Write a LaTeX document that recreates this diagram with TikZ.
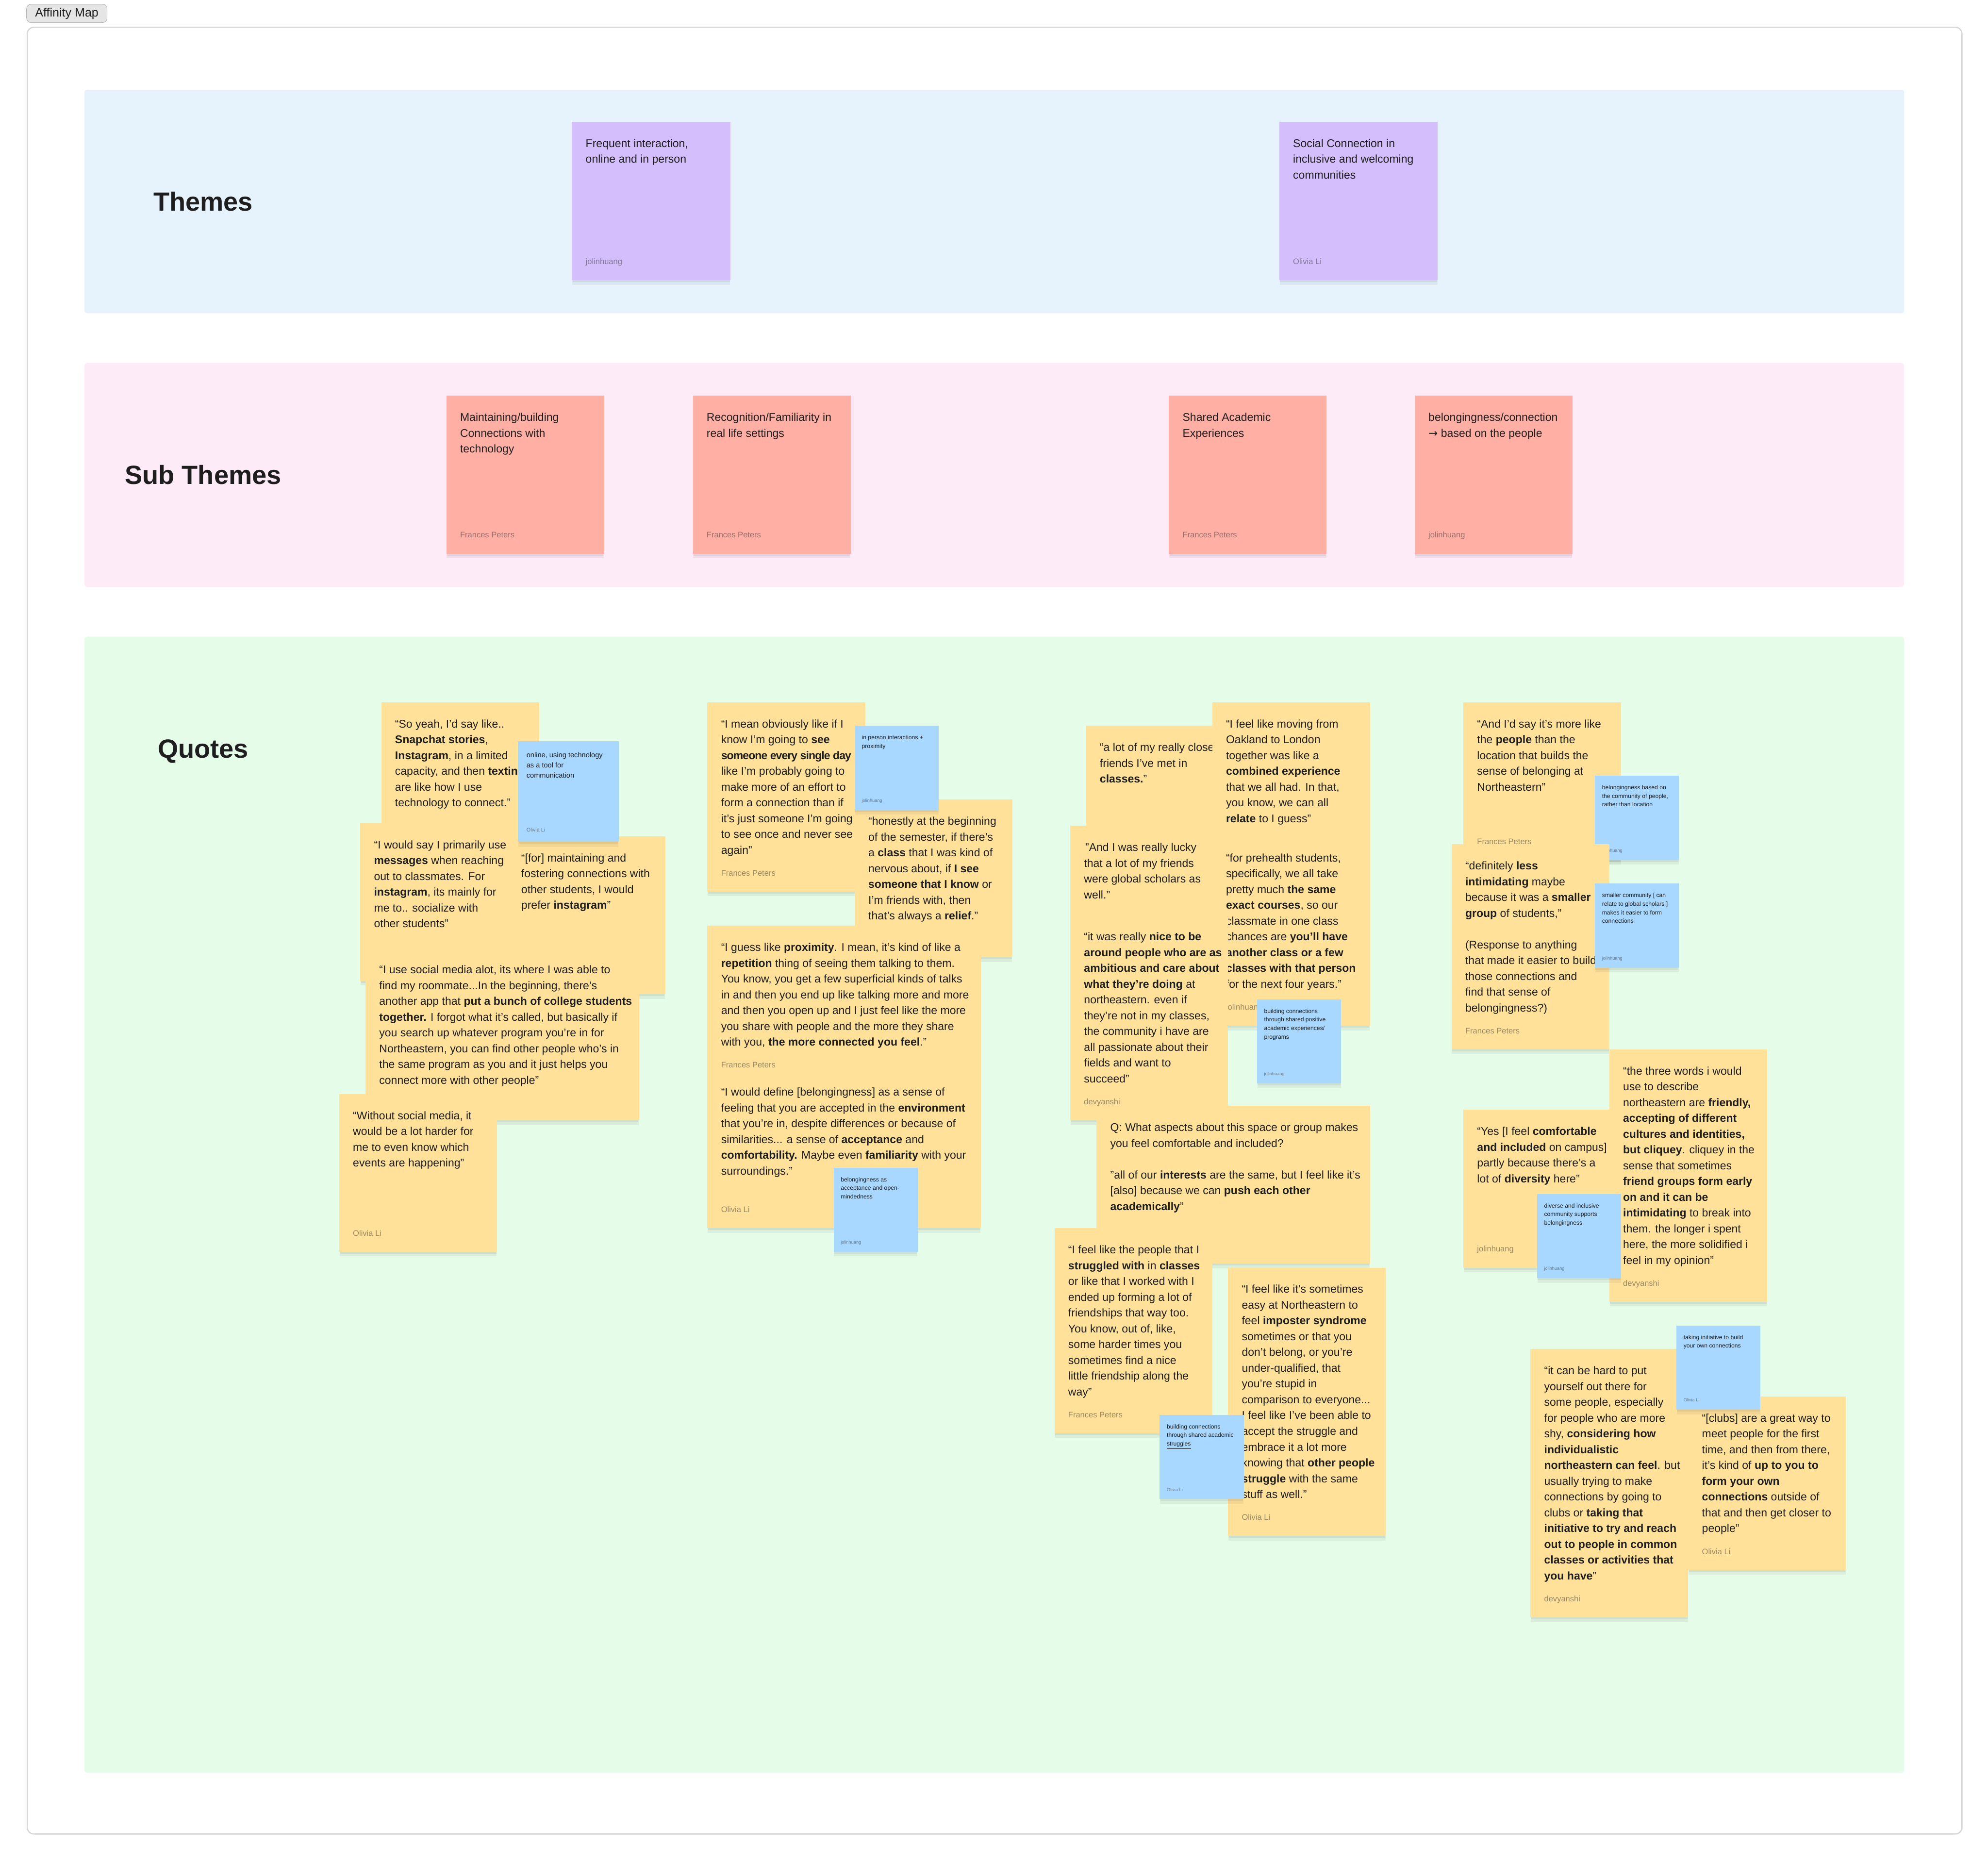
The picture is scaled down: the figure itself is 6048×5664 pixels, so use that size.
\documentclass[tikz,border=0pt]{standalone}
\usepackage{fontspec}
\setmainfont{Liberation Sans}
\newfontfamily\symf{DejaVu Sans}
\definecolor{ink}{HTML}{1E1E1E}
\definecolor{themebg}{HTML}{E6F3FD}
\definecolor{subbg}{HTML}{FDEBF7}
\definecolor{quotebg}{HTML}{E5FCE8}
\definecolor{purplenote}{HTML}{D4BEFC}
\definecolor{salmonnote}{HTML}{FFAFA3}
\definecolor{yellownote}{HTML}{FFE19A}
\definecolor{bluenote}{HTML}{A8D8FF}
\definecolor{framegray}{HTML}{D6D6D6}
\tikzset{
  notebox/.style={rectangle, inner sep=0pt, outer sep=0pt, anchor=north west, draw=none},
  sectionbox/.style={rectangle, inner sep=0pt, anchor=north west, draw=none, rounded corners=2pt},
  qtext/.style={anchor=north west, inner sep=0pt, align=left, text=ink, font=\fontsize{8.5pt}{12pt}\selectfont},
  qauth/.style={anchor=base west, inner sep=0pt, text=ink, text opacity=0.45, font=\fontsize{6.1pt}{7pt}\selectfont},
  btext/.style={anchor=north west, inner sep=0pt, align=left, text=ink, font=\fontsize{4.5pt}{6.5pt}\selectfont},
  bauth/.style={anchor=base west, inner sep=0pt, text=ink, text opacity=0.5, font=\fontsize{3.4pt}{4pt}\selectfont},
  btextL/.style={anchor=north west, inner sep=0pt, align=left, text=ink, font=\fontsize{5.4pt}{7.75pt}\selectfont},
  bauthL/.style={anchor=base west, inner sep=0pt, text=ink, text opacity=0.5, font=\fontsize{4pt}{5pt}\selectfont},
  sectitle/.style={anchor=base, inner sep=0pt, text=ink, font=\fontsize{20pt}{24pt}\selectfont\bfseries},
  shadowA/.style={fill=black, opacity=0.05},
  shadowB/.style={fill=black, opacity=0.06},
}
% name, x, y, w, h, colour, text, author
\newcommand\stickynote[8]{%
  \fill[shadowA] (#2+1,#3+8) rectangle (#2+#4-1,#3+#5+14);
  \fill[shadowB] (#2+2,#3+3) rectangle (#2+#4-2,#3+#5+6);
  \node[notebox, fill=#6, minimum width=#4*0.25pt, minimum height=#5*0.25pt] (#1) at (#2,#3) {};
  \node[qtext] (#1-text) at (#2+41,#3+43) {\strut#7};
  \if\relax\detokenize{#8}\relax\else
  \node[qauth] (#1-author) at (#2+41,#3+#5-48) {#8};
  \fi
}
% name, x, y, text, author  (256 x 256 tag note)
\newcommand\tagnote[5]{%
  \fill[shadowA] (#2+1,#3+8) rectangle (#2+255,#3+270);
  \fill[shadowB] (#2+2,#3+3) rectangle (#2+254,#3+262);
  \node[notebox, fill=bluenote, minimum width=64pt, minimum height=64pt] (#1) at (#2,#3) {};
  \node[btext] (#1-text) at (#2+21,#3+23) {\strut#4};
  \node[bauth] (#1-author) at (#2+21,#3+232) {#5};
}
\begin{document}
\begin{tikzpicture}[x=0.25pt,y=-0.25pt]
\useasboundingbox (0,0) rectangle (6048,5664);
\fill[white] (0,0) rectangle (6048,5664);

% frame and label
\node[rectangle, anchor=north west, draw=framegray, line width=0.9pt, rounded corners=5pt, inner sep=0pt,
  minimum width=1471.5pt, minimum height=1374pt] (frame) at (81,81) {};
\node[rectangle, anchor=north west, fill=black!10, draw=black!28, line width=0.4pt, rounded corners=3.5pt,
  inner sep=0pt, minimum width=61.25pt, minimum height=14pt, text=ink,
  font=\fontsize{9.25pt}{11pt}\selectfont] (affinity) at (80,12) {Affinity Map};

% sections
\node[sectionbox, fill=themebg, minimum width=1384pt, minimum height=170pt] (sec-themes) at (256,272) {};
\node[sectionbox, fill=subbg, minimum width=1384pt, minimum height=170pt] (sec-sub) at (256,1104) {};
\node[sectionbox, fill=quotebg, minimum width=1384pt, minimum height=864pt] (sec-quotes) at (256,1936) {};

\node[sectitle] (title-themes) at (618,641) {Themes};
\node[sectitle] (title-sub) at (618,1473) {Sub Themes};
\node[sectitle] (title-quotes) at (618,2305) {Quotes};

% themes
\stickynote{th1}{1740}{370}{482}{482}{purplenote}{Frequent interaction,\\online and in person}{jolinhuang}
\stickynote{th2}{3892}{370}{482}{482}{purplenote}{Social Connection in\\inclusive and welcoming\\communities}{Olivia Li}

% sub themes
\stickynote{st1}{1358}{1204}{480}{480}{salmonnote}{Maintaining/building\\Connections with\\technology}{Frances Peters}
\stickynote{st2}{2108}{1204}{480}{480}{salmonnote}{Recognition/Familiarity in\\real life settings}{Frances Peters}
\stickynote{st3}{3556}{1204}{480}{480}{salmonnote}{Shared Academic\\Experiences}{Frances Peters}
\stickynote{st4}{4304}{1204}{480}{480}{salmonnote}{belongingness/connection\\{\symf →} based on the people}{jolinhuang}

% ---------- quotes column 1
\stickynote{q1}{1160}{2136}{480}{480}{yellownote}{“So yeah, I'd say like..\\\textbf{Snapchat stories},\\\textbf{Instagram}, in a limited\\capacity, and then \textbf{texting}\\are like how I use\\technology to connect.”}{}
\stickynote{q2}{1096}{2504}{480}{480}{yellownote}{“I would say I primarily use\\\textbf{messages} when reaching\\out to classmates. For\\\textbf{instagram}, its mainly for\\me to.. socialize with\\other students”}{}
\stickynote{q3}{1544}{2544}{480}{480}{yellownote}{“[for] maintaining and\\fostering connections with\\other students, I would\\prefer \textbf{instagram}”}{}
% large tag note
\fill[shadowA] (1577,2262) rectangle (1881,2576);
\fill[shadowB] (1578,2257) rectangle (1880,2566);
\node[notebox, fill=bluenote, minimum width=76.5pt, minimum height=76.5pt] (b1) at (1576,2254) {};
\node[btextL] (b1-text) at (1601,2281) {\strut online, using technology\\as a tool for\\communication};
\node[bauthL] (b1-author) at (1601,2530) {Olivia Li};
\stickynote{q4}{1112}{2884}{832}{524}{yellownote}{“I use social media alot, its where I was able to\\find my roommate...In the beginning, there’s\\another app that \textbf{put a bunch of college students}\\\textbf{together.} I forgot what it’s called, but basically if\\you search up whatever program you’re in for\\Northeastern, you can find other people who’s in\\the same program as you and it just helps you\\connect more with other people”}{}
\stickynote{q5}{1032}{3328}{480}{480}{yellownote}{“Without social media, it\\would be a lot harder for\\me to even know which\\events are happening”}{Olivia Li}

% ---------- quotes column 2
\stickynote{q6}{2152}{2136}{480}{576}{yellownote}{“I mean obviously like if I\\know I'm going to \textbf{see}\\{\addfontfeature{LetterSpace=-4}\textbf{someone every single day}}\\like I'm probably going to\\make more of an effort to\\form a connection than if\\it's just someone I'm going\\to see once and never see\\again”}{Frances Peters}
\stickynote{q7}{2600}{2432}{480}{480}{yellownote}{“honestly at the beginning\\of the semester, if there's\\a \textbf{class} that I was kind of\\nervous about, if \textbf{I see}\\\textbf{someone that I know} or\\I'm friends with, then\\that's always a \textbf{relief}.”}{}
\tagnote{b2}{2600}{2208}{in person interactions +\\proximity}{jolinhuang}
\stickynote{q8}{2152}{2816}{832}{480}{yellownote}{“I guess like \textbf{proximity}. I mean, it's kind of like a\\\textbf{repetition} thing of seeing them talking to them.\\You know, you get a few superficial kinds of talks\\in and then you end up like talking more and more\\and then you open up and I just feel like the more\\you share with people and the more they share\\with you, \textbf{the more connected you feel}.”}{Frances Peters}
\stickynote{q9}{2152}{3256}{832}{480}{yellownote}{“I would define [belongingness] as a sense of\\feeling that you are accepted in the \textbf{environment}\\that you're in, despite differences or because of\\similarities... a sense of \textbf{acceptance} and\\\textbf{comfortability.} Maybe even \textbf{familiarity} with your\\surroundings.”}{Olivia Li}
\tagnote{b3}{2536}{3552}{belongingness as\\acceptance and open-\\mindedness}{jolinhuang}

% ---------- quotes column 3
\stickynote{q10}{3304}{2208}{480}{480}{yellownote}{“a lot of my really close\\friends I've met in\\\textbf{classes.}”}{}
\stickynote{q14}{3256}{2512}{480}{480}{yellownote}{\hspace{1pt}”And I was really lucky\\that a lot of my friends\\were global scholars as\\well.”}{}
\stickynote{q11}{3688}{2136}{480}{480}{yellownote}{“I feel like moving from\\Oakland to London\\together was like a\\\textbf{combined experience}\\that we all had. In that,\\you know, we can all\\\textbf{relate} to I guess”}{}
\stickynote{q12}{3688}{2544}{480}{576}{yellownote}{“for prehealth students,\\specifically, we all take\\pretty much \textbf{the same}\\\textbf{exact courses}, so our\\classmate in one class\\chances are \textbf{you’ll have}\\\textbf{another class or a few}\\\textbf{classes with that person}\\for the next four years.”}{jolinhuang}
\stickynote{q13}{3256}{2784}{480}{624}{yellownote}{“it was really \textbf{nice to be}\\\textbf{around people who are as}\\\textbf{ambitious and care about}\\\textbf{what they’re doing} at\\northeastern. even if\\they’re not in my classes,\\the community i have are\\all passionate about their\\fields and want to\\succeed”}{devyanshi}
\tagnote{b4}{3824}{3040}{building connections\\through shared positive\\academic experiences/\\programs}{jolinhuang}
\stickynote{q15}{3336}{3364}{832}{480}{yellownote}{Q: What aspects about this space or group makes\\you feel comfortable and included?\\[12pt]”all of our \textbf{interests} are the same, but I feel like it’s\\{}[also] because we can \textbf{push each other}\\\textbf{academically}”}{}
\stickynote{q16}{3208}{3736}{480}{624}{yellownote}{“I feel like the people that I\\\textbf{struggled with} in \textbf{classes}\\or like that I worked with I\\ended up forming a lot of\\friendships that way too.\\You know, out of, like,\\some harder times you\\sometimes find a nice\\little friendship along the\\way”}{Frances Peters}
\stickynote{q17}{3736}{3856}{480}{816}{yellownote}{“I feel like it's sometimes\\easy at Northeastern to\\feel \textbf{imposter syndrome}\\sometimes or that you\\don't belong, or you're\\under-qualified, that\\you're stupid in\\comparison to everyone...\\I feel like I've been able to\\accept the struggle and\\embrace it a lot more\\knowing that \textbf{other people}\\\textbf{struggle} with the same\\stuff as well.”}{Olivia Li}
\tagnote{b5}{3528}{4304}{building connections\\through shared academic\\\underline{struggles}}{Olivia Li}

% ---------- quotes column 4
\stickynote{q18}{4452}{2136}{480}{480}{yellownote}{“And I'd say it's more like\\the \textbf{people} than the\\location that builds the\\sense of belonging at\\Northeastern”}{Frances Peters}
\tagnote{b6}{4852}{2360}{belongingness based on\\the community of people,\\rather than location}{jolinhuang}
\stickynote{q19}{4416}{2568}{480}{624}{yellownote}{“definitely \textbf{less}\\\textbf{intimidating} maybe\\because it was a \textbf{smaller}\\\textbf{group} of students,”\\[12pt](Response to anything\\that made it easier to build\\those connections and\\find that sense of\\belongingness?)}{Frances Peters}
\tagnote{b7}{4852}{2688}{smaller community [ can\\relate to global scholars ]\\makes it easier to form\\connections}{jolinhuang}
\stickynote{q21}{4452}{3376}{480}{480}{yellownote}{“Yes [I feel \textbf{comfortable}\\\textbf{and included} on campus]\\partly because there’s a\\lot of \textbf{diversity} here”}{jolinhuang}
\stickynote{q20}{4896}{3192}{480}{768}{yellownote}{“the three words i would\\use to describe\\northeastern are \textbf{friendly,}\\\textbf{accepting of different}\\\textbf{cultures and identities,}\\\textbf{but cliquey}. cliquey in the\\sense that sometimes\\\textbf{friend groups form early}\\\textbf{on and it can be}\\\textbf{intimidating} to break into\\them. the longer i spent\\here, the more solidified i\\feel in my opinion”}{devyanshi}
\tagnote{b8}{4676}{3632}{diverse and inclusive\\community supports\\belongingness}{jolinhuang}
\stickynote{q22}{4656}{4104}{480}{816}{yellownote}{“it can be hard to put\\yourself out there for\\some people, especially\\for people who are more\\shy, \textbf{considering how}\\\textbf{individualistic}\\\textbf{northeastern can feel}. but\\usually trying to make\\connections by going to\\clubs or \textbf{taking that}\\\textbf{initiative to try and reach}\\\textbf{out to people in common}\\\textbf{classes or activities that}\\\textbf{you have}”}{devyanshi}
\stickynote{q23}{5136}{4248}{480}{528}{yellownote}{“[clubs] are a great way to\\meet people for the first\\time, and then from there,\\it’s kind of \textbf{up to you to}\\\textbf{form your own}\\\textbf{connections} outside of\\that and then get closer to\\people”}{Olivia Li}
\tagnote{b9}{5100}{4032}{taking initiative to build\\your own connections}{Olivia Li}
\end{tikzpicture}
\end{document}
